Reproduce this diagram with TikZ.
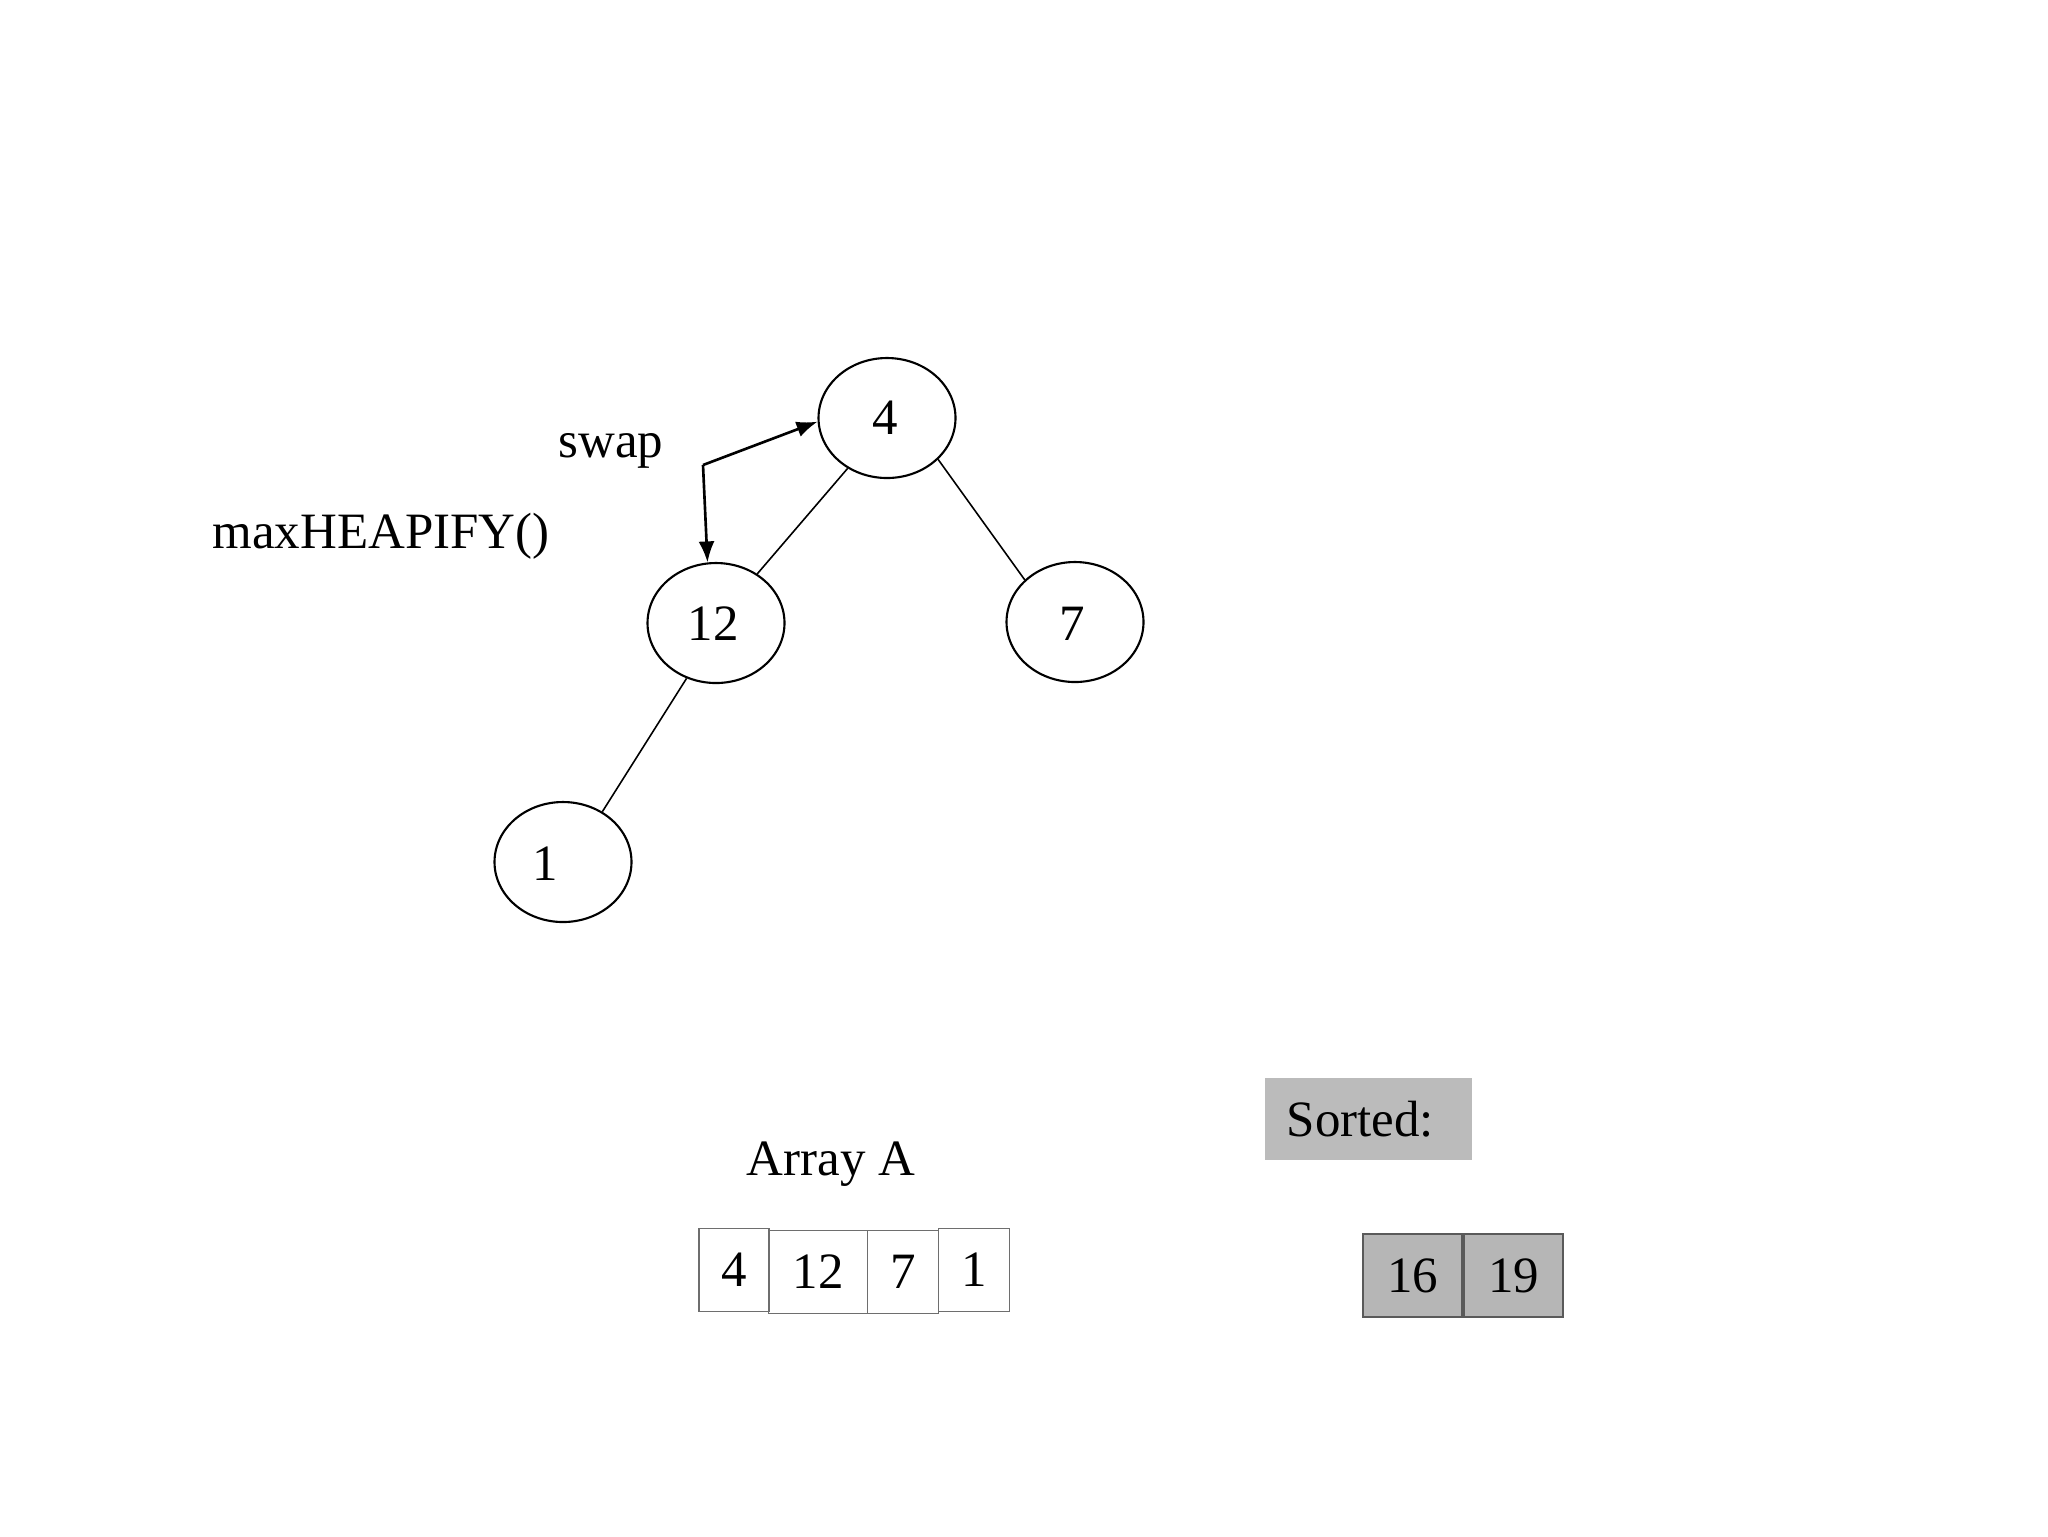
\documentclass[tikz,border=0pt]{standalone}
\usepackage{fontspec}
\setmainfont{Liberation Serif}
\usetikzlibrary{shapes.geometric,arrows.meta}
\definecolor{sortfill}{HTML}{BBBBBB}
\definecolor{cellfill}{HTML}{B6B6B6}
\definecolor{celldraw}{HTML}{5A5A5A}
\definecolor{arrdraw}{HTML}{6E6E6E}
\begin{document}
\begin{tikzpicture}[x=0.1mm,y=-0.1mm,
  every node/.style={font=\fontsize{14.5pt}{17pt}\selectfont},
  heapnode/.style={ellipse,draw,line width=0.6pt,minimum width=13.7mm,minimum height=12mm,inner sep=0pt},
  edge/.style={line width=0.45pt},
  swaparrow/.style={line width=0.75pt,-{Latex[length=2.1mm,width=1.6mm]}},
  arrcell/.style={rectangle,draw=arrdraw,line width=0.4pt,inner sep=0pt,minimum height=8.3mm},
  sortcell/.style={rectangle,draw=celldraw,fill=cellfill,line width=0.5pt,inner sep=0pt,minimum height=8.3mm,minimum width=9.9mm},
  txt/.style={inner sep=0pt}]
\useasboundingbox (0,0) rectangle (2048,1536);
% heap
\node[heapnode] (n4) at (887,418) {};
\node[heapnode] (n12) at (716,623) {};
\node[heapnode] (n7) at (1075,622) {};
\node[heapnode] (n1) at (563,862) {};
\node[txt] (t4) at (885,418) {4};
\node[txt] (t12) at (713,624) {12};
\node[txt] (t7) at (1072,624) {7};
\node[txt] (t1) at (545,864) {1};
\draw[edge] (n4.232) -- (n12.50);
\draw[edge] (n4.321) -- (n7.140);
\draw[edge] (n12.242) -- (n1.52);
% swap arrows
\coordinate (corner) at (703,465);
\draw[swaparrow] (corner) -- (n4.183);
\draw[swaparrow] (corner) -- (n12.98);
\node[txt,anchor=base west] (swap) at (558,457) {swap};
\node[txt,anchor=base west] (heapify) at (212,548) {maxHEAPIFY()};
% array
\node[txt,anchor=base] (arrlabel) at (831,1175) {Array A};
\node[arrcell,minimum width=7.0mm] (a1) at (734,1270) {4};
\node[arrcell,minimum width=9.9mm] (a2) at (818,1272) {12};
\node[arrcell,minimum width=7.1mm] (a3) at (903,1272) {7};
\node[arrcell,minimum width=7.1mm] (a4) at (974,1270) {1};
% sorted
\node[rectangle,fill=sortfill,anchor=west,inner xsep=2.2mm,inner ysep=0pt,
      text width=16.3mm,align=left,minimum height=8.2mm] (sorted) at (1264,1119) {Sorted:};
\node[sortcell] (s16) at (1412.5,1275.5) {16};
\node[sortcell] (s19) at (1513.5,1275.5) {19};
\end{tikzpicture}
\end{document}
